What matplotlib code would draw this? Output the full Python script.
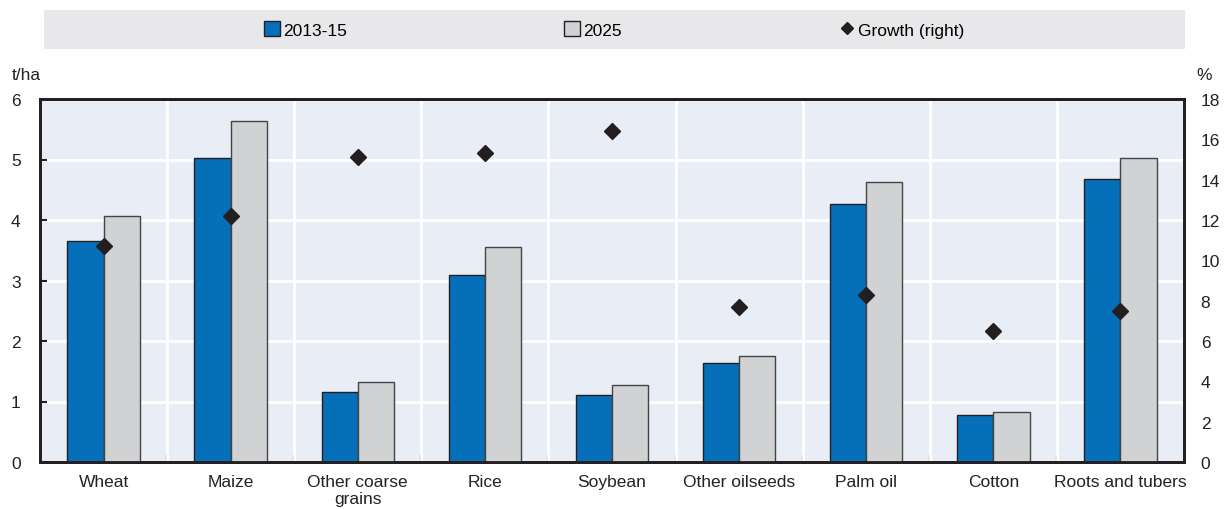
import matplotlib
matplotlib.use('agg')
import matplotlib.pyplot as plt
from matplotlib.lines import Line2D
from matplotlib.patches import Patch
import numpy as np

plt.rcParams['font.family'] = ['Liberation Sans Narrow', 'Liberation Sans', 'DejaVu Sans']

############ DATA ##########################################################
categories = ["Wheat", "Maize", "Other coarse\ngrains", "Rice", "Soybean",
              "Other oilseeds", "Palm oil", "Cotton", "Roots and tubers"]
yield_2013_15 = [3.66, 5.02, 1.15, 3.09, 1.10, 1.63, 4.27, 0.77, 4.68]
yield_2025 = [4.06, 5.63, 1.32, 3.56, 1.28, 1.76, 4.62, 0.82, 5.02]
growth = [10.7, 12.2, 15.1, 15.3, 16.4, 7.7, 8.3, 6.5, 7.5]
series_names = ["2013-15", "2025", "Growth (right)"]

blue = "#0570b9"
grey = "#d1d2d4"
dark = "#231f20"
bg = "#e9edf5"

# CREATE PLOT ##############################
fig = plt.figure(figsize=(12.24, 5.10), dpi=100)
ax = fig.add_axes([40/1224, 1 - 463/510, 1144/1224, 363/510])
ax2 = ax.twinx()

x = np.arange(len(categories))
w = 0.285
ax.bar(x - w/2, yield_2013_15, w, color=blue, edgecolor=dark, linewidth=1.0, zorder=3)
ax.bar(x + w/2, yield_2025, w, color=grey, edgecolor='#444444', linewidth=1.0, zorder=3)
ax2.plot(x, growth, linestyle='none', marker='D', markersize=8.5, color=dark, zorder=4)

ax.set_facecolor(bg)
ax.set_xlim(-0.5, len(categories) - 0.5)
ax.set_ylim(0, 6)
ax2.set_ylim(0, 18)
ax.set_yticks(np.arange(0, 7, 1))
ax2.set_yticks(np.arange(0, 19, 2))

# gridlines: horizontal at y ticks, vertical at category boundaries
for b in np.arange(0.5, len(categories) - 1, 1):
    ax.axvline(b, color='white', linewidth=2, zorder=1)
ax.grid(axis='y', color='white', linewidth=2, zorder=1)
ax.set_axisbelow(True)

ax.set_xticks(x)
ax.set_xticklabels(categories, fontsize=12.5, color='#222222', linespacing=1.1)
ax.tick_params(axis='x', length=0, pad=9)
ax.set_xticks(np.arange(0.5, len(categories) - 1, 1), minor=True)
ax.tick_params(axis='x', which='minor', direction='in', length=5, width=1.5, color=dark)
ax.tick_params(axis='y', direction='in', length=5, width=1.5, color=dark,
               labelsize=12.5, labelcolor='#222222', pad=14)
ax2.tick_params(axis='y', length=0, labelsize=12.5, labelcolor='#222222', pad=12)

for a in (ax, ax2):
    for s in a.spines.values():
        s.set_color(dark)
        s.set_linewidth(2)

fig.text(12/1224, 1 - 75/510, "t/ha", fontsize=12.5, color='#222222', va='center', ha='left')
fig.text(1196/1224, 1 - 75/510, "%", fontsize=12.5, color='#222222', va='center', ha='left')

# legend band
band = fig.add_axes([44/1224, 1 - 50/510, 1141/1224, 39/510])
band.set_facecolor('#e8e8ea')
band.set_xticks([])
band.set_yticks([])
for s in band.spines.values():
    s.set_visible(False)
handles = [Patch(facecolor=blue, edgecolor=dark, linewidth=1.0),
           Patch(facecolor=grey, edgecolor=dark, linewidth=1.0),
           Line2D([], [], linestyle='none', marker='D', markersize=6, color=dark)]
band.legend(handles, series_names, loc='center', ncol=3, frameon=False,
            fontsize=12.5, handlelength=0.9, handleheight=0.9, handletextpad=0.2,
            columnspacing=12.5, bbox_to_anchor=(0.5, 0.5))

plt.savefig("out.png", dpi=100)
